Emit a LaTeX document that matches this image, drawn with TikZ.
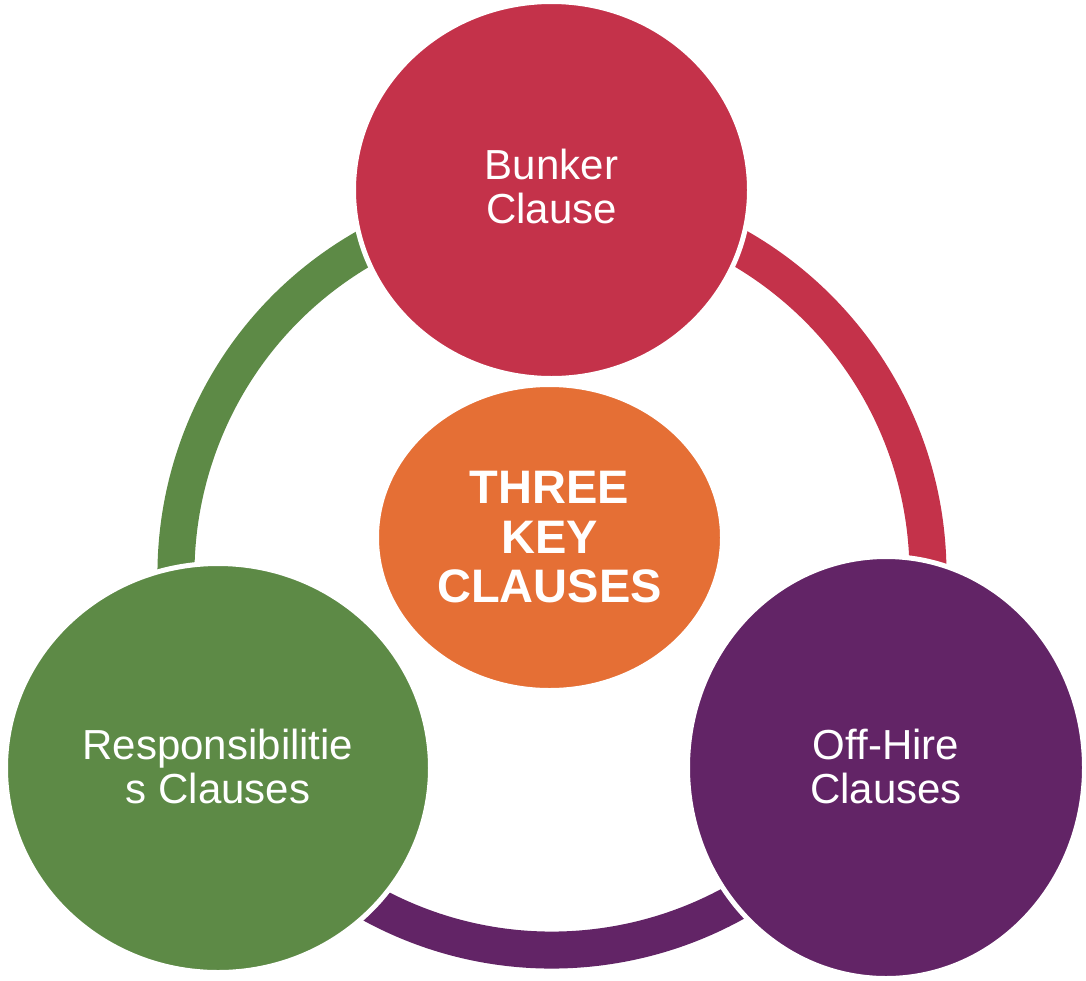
\documentclass[tikz,border=0pt]{standalone}
\usepackage{fontspec}
\setmainfont{Liberation Sans}
\usetikzlibrary{shapes.geometric,backgrounds}

\definecolor{clauseRed}{RGB}{196,50,74}
\definecolor{clauseGreen}{RGB}{93,138,70}
\definecolor{clausePurple}{RGB}{98,36,102}
\definecolor{clauseOrange}{RGB}{229,111,53}

\begin{document}
\begin{tikzpicture}[x=1pt,y=-1pt,
  bubble/.style={ellipse, draw=white, line width=5pt, inner sep=0pt,
    text=white, align=center, font=\fontsize{42}{44}\selectfont},
  hubbubble/.style={bubble, font=\bfseries\fontsize{47}{49.5}\selectfont},
  ringseg/.style={line width=37pt, line cap=butt}]

  % canvas
  \useasboundingbox (0,0) rectangle (1086,980);

  % the three clause bubbles and the central hub
  \node[bubble, fill=clauseRed, minimum width=396pt, minimum height=377pt,
    text depth=7pt]
    (bunker) at (551.5,190) {Bunker\\Clause};
  \node[bubble, fill=clauseGreen, minimum width=425pt, minimum height=409pt,
    text depth=4pt]
    (resp) at (218,768) {Responsibilitie\\s Clauses};
  \node[bubble, fill=clausePurple, minimum width=397pt, minimum height=422pt,
    text depth=3pt]
    (offhire) at (886,767.5) {Off-Hire\\Clauses};
  \node[hubbubble, fill=clauseOrange, minimum width=346pt, minimum height=306pt]
    (core) at (549.5,537.5) {THREE\\KEY\\CLAUSES};

  % centre of the cycle ring
  \coordinate (hub) at (552,574);

  % ring segments behind the bubbles
  \begin{pgfonlayer}{background}
    \fill[white] (0,0) rectangle (1086,980);
    \draw[ringseg, clauseGreen]
      ([shift={(150:376)}]hub) arc[start angle=150, end angle=270, radius=376];
    \draw[ringseg, clauseRed]
      ([shift={(270:376)}]hub) arc[start angle=270, end angle=390, radius=376];
    \draw[ringseg, clausePurple]
      ([shift={(30:376)}]hub) arc[start angle=30, end angle=150, radius=376];
  \end{pgfonlayer}
\end{tikzpicture}
\end{document}
